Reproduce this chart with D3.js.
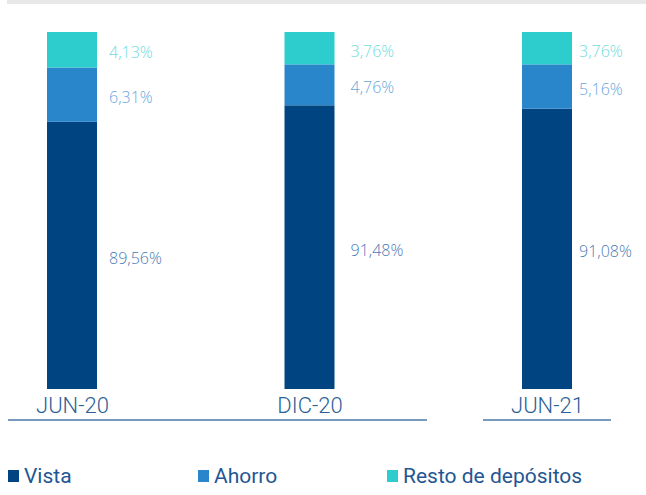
<!DOCTYPE html>
<html>
<head>
<meta charset="utf-8">
<script src="https://cdn.jsdelivr.net/npm/d3@7"></script>
<style>
  body { margin: 0; background: #fff; }
  svg { display: block; }
</style>
</head>
<body>
<div id="chart"></div>
<script>
// data
const periods = ['JUN-20', 'DIC-20', 'JUN-21'];
const vista = [89.56, 91.48, 91.08];
const ahorro = [6.31, 4.76, 5.16];
const resto = [4.13, 3.76, 3.76];
const seriesNames = ['Vista', 'Ahorro', 'Resto de depósitos'];

const colors = ['#004481', '#2A86CA', '#2ECDCD'];
const labelColors = ['#4A7BB5', '#6AA6DA', '#6FDCDC'];

const width = 646, height = 495;
const fmt = v => v.toFixed(2).replace('.', ',') + '%';

const rows = periods.map((p, i) => ({ period: p, Vista: vista[i], Ahorro: ahorro[i], 'Resto de depósitos': resto[i] }));
const stacked = d3.stack().keys(seriesNames)(rows);

const svg = d3.select('#chart').append('svg')
    .attr('width', width)
    .attr('height', height);

// grey strip across the top
svg.append('rect')
    .attr('x', 7).attr('y', 0)
    .attr('width', width - 7).attr('height', 4)
    .attr('fill', '#e8e8e8');

// centre of the three columns
const xScale = d3.scalePoint()
    .domain(periods)
    .range([72, 547]);
const barWidth = 50;

// axis is truncated in the original, bottom of the bars is not zero
const yMin = 58.5;
const yScale = d3.scaleLinear()
    .domain([yMin, 100])
    .range([389, 32]);

const labelOffset = [12, 16, 7];

const layer = svg.append('g')
    .selectAll('g')
    .data(stacked)
    .join('g')
    .attr('fill', (d, i) => colors[i]);

layer.selectAll('rect')
    .data(d => d)
    .join('rect')
    .attr('x', d => xScale(d.data.period) - barWidth / 2)
    .attr('y', d => yScale(d[1]))
    .attr('width', barWidth)
    .attr('height', d => yScale(Math.max(d[0], yMin)) - yScale(d[1]));

// value labels on the right of each segment
stacked.forEach((s, si) => {
    svg.append('g')
        .selectAll('text')
        .data(s)
        .join('text')
        .attr('x', (d, i) => xScale(d.data.period) + barWidth / 2 + labelOffset[i])
        .attr('y', d => (yScale(d[1]) + yScale(Math.max(d[0], yMin))) / 2 + 3)
        .attr('dy', '0.35em')
        .attr('fill', labelColors[si])
        .style('font-family', '"Open Sans", sans-serif')
        .style('font-weight', 300)
        .style('font-size', '16px')
        .text(d => fmt(d[1] - d[0]));
});

// category labels
const xAxis = svg.append('g')
    .attr('transform', 'translate(0,389)')
    .call(d3.axisBottom(xScale).tickSize(0).tickPadding(8));
xAxis.select('.domain').remove();
xAxis.selectAll('text')
    .attr('fill', '#2B5F96')
    .style('font-family', 'Roboto, sans-serif')
    .style('font-weight', 300)
    .style('font-size', '22px');

// underlines
const lineColor = '#4A78A8';
svg.append('line').attr('x1', 8).attr('x2', 427).attr('y1', 420).attr('y2', 420)
    .attr('stroke', lineColor).attr('stroke-width', 1.5);
svg.append('line').attr('x1', 483).attr('x2', 611).attr('y1', 420).attr('y2', 420)
    .attr('stroke', lineColor).attr('stroke-width', 1.5);

// legend
const legendX = [8, 198, 387];
const legend = svg.append('g')
    .selectAll('g')
    .data(seriesNames)
    .join('g')
    .attr('transform', (d, i) => `translate(${legendX[i]},470)`);

legend.append('rect')
    .attr('width', 11)
    .attr('height', 12)
    .attr('fill', (d, i) => colors[i]);

legend.append('text')
    .attr('x', 16)
    .attr('y', 12.5)
    .attr('fill', '#1F5792')
    .style('font-family', 'Roboto, sans-serif')
    .style('font-size', '21px')
    .text(d => d);
</script>
</body>
</html>
